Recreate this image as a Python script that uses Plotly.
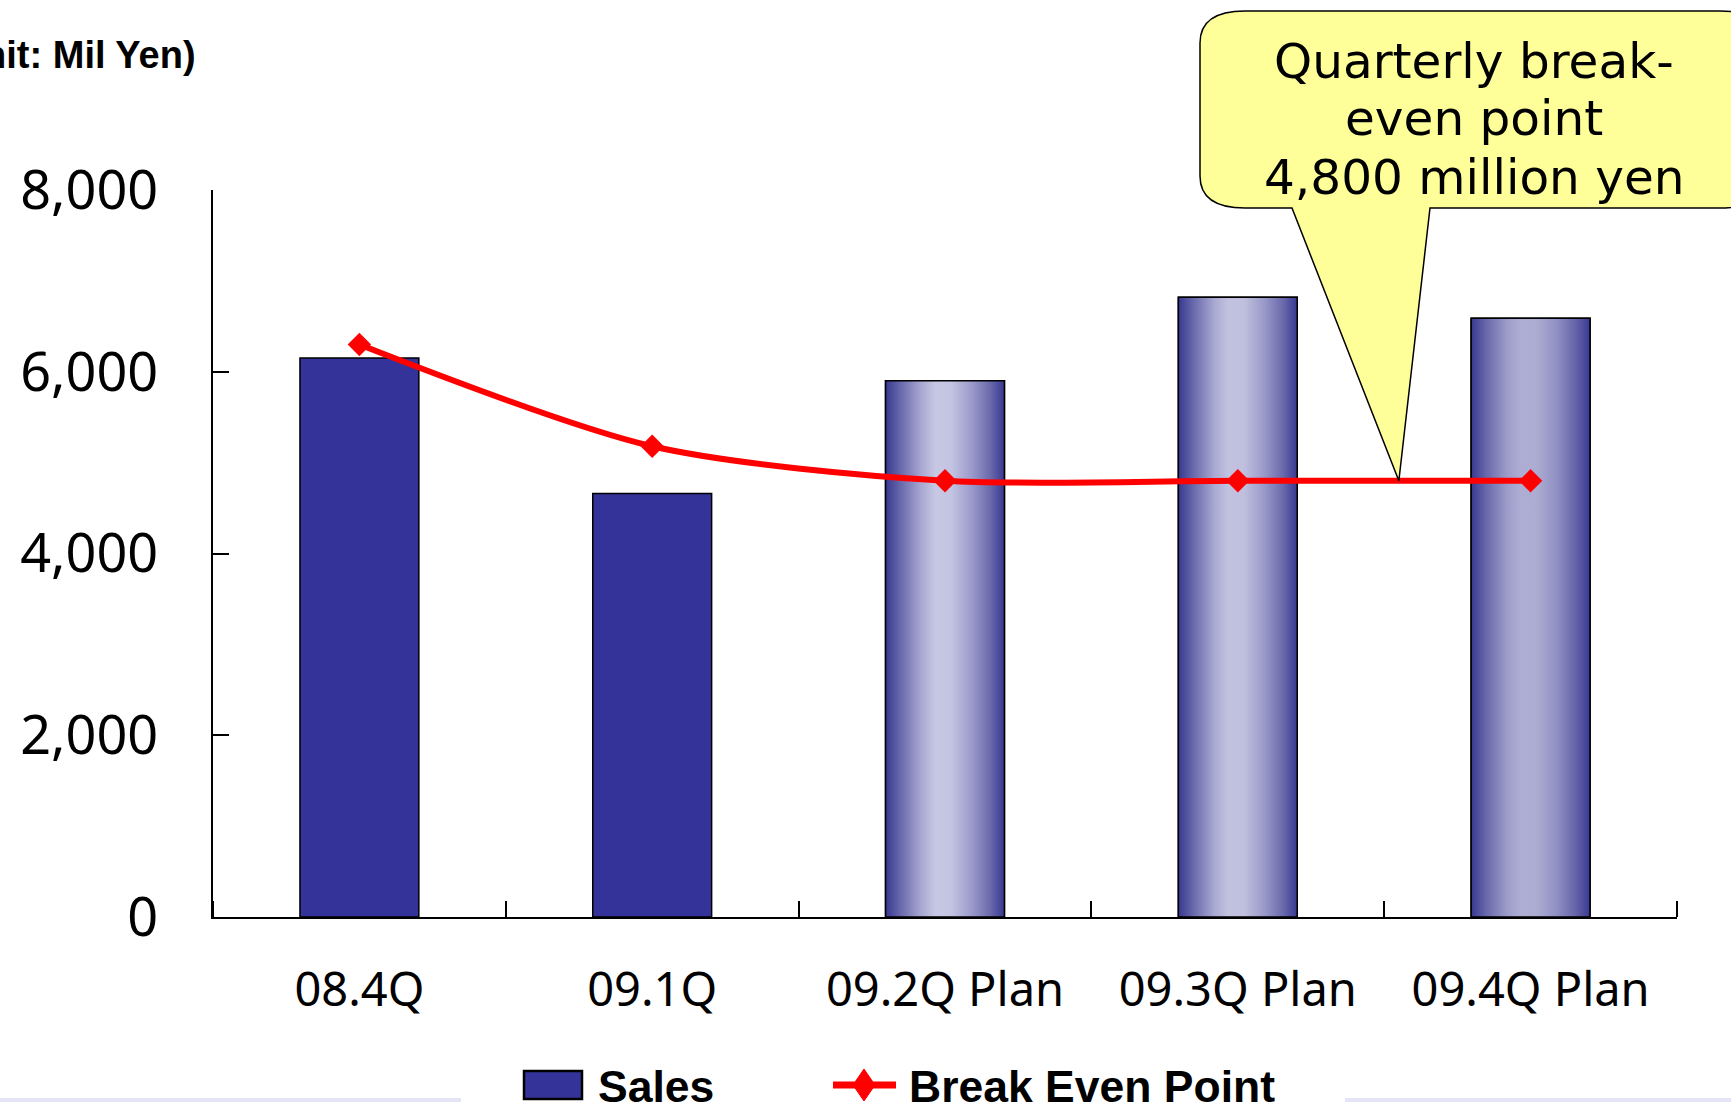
import plotly.graph_objects as go

# ---------------- data ----------------
categories = ["08.4Q", "09.1Q", "09.2Q Plan", "09.3Q Plan", "09.4Q Plan"]
sales = [6150, 4660, 5900, 6820, 6590]
break_even = [6300, 5180, 4800, 4800, 4800]
is_plan = [False, False, True, True, True]
y_ticks = [0, 2000, 4000, 6000, 8000]
callout_lines = ["Quarterly break-", "even point", "4,800 million yen"]
callout_target_x = 3.55
callout_target_y = 4800
unit_label = "(Unit: Mil Yen)"
series_names = ["Sales", "Break Even Point"]

# ---------------- layout geometry ----------------
W, H = 1731, 1102
ML, MR, MT, MB = 213, 54, 190, 185
PW, PH = W - ML - MR, H - MT - MB
BAR_W = 0.406
Y_MAX = y_ticks[-1]
N = len(categories)
BAR_COLOR = "#333399"
LINE_COLOR = "#ff0000"


def px_x(X):
    return (X - ML) / PW


def px_y(Y):
    return (H - MB - Y) / PH


plan_scales = [
    [[0, "#383892"], [0.12, "#6666aa"], [0.3, "#a8a8d2"], [0.42, "#c8c8e4"],
     [0.55, "#c4c4e2"], [0.72, "#9c9ccc"], [0.88, "#6a6aac"], [1, "#383892"]],
    [[0, "#383892"], [0.12, "#6666aa"], [0.3, "#a8a8d2"], [0.42, "#c2c2e0"],
     [0.55, "#c0c0de"], [0.72, "#9a9aca"], [0.88, "#6a6aac"], [1, "#383892"]],
    [[0, "#383892"], [0.12, "#6666aa"], [0.3, "#9c9cca"], [0.42, "#aeaed4"],
     [0.55, "#acacd2"], [0.72, "#9090c4"], [0.88, "#6464a8"], [1, "#383892"]],
]

fig = go.Figure()
xs = list(range(N))

fig.add_trace(go.Bar(
    x=xs, y=sales, width=BAR_W, name=series_names[0],
    marker=dict(color=BAR_COLOR, line=dict(color="black", width=1.5)),
))

k = 0
for i, (v, p) in enumerate(zip(sales, is_plan)):
    if not p:
        continue
    x0, x1 = i - BAR_W / 2, i + BAR_W / 2
    fig.add_trace(go.Scatter(
        x=[x0, x1, x1, x0, x0], y=[0, 0, v, v, 0], mode="lines",
        fill="toself",
        fillgradient=dict(type="horizontal", colorscale=plan_scales[k % len(plan_scales)]),
        line=dict(color="black", width=1.5),
        showlegend=False, hoverinfo="skip",
    ))
    k += 1

fig.add_trace(go.Scatter(
    x=xs, y=break_even, mode="lines+markers", name=series_names[1],
    line=dict(color=LINE_COLOR, width=6, shape="spline", smoothing=0.8),
    marker=dict(symbol="diamond", size=18, color=LINE_COLOR),
))


def P(X, Y):
    return f"{px_x(X):.5f},{px_y(Y):.5f}"


# callout balloon
L, R, T, B = 1200, 1765, 11, 208
rx, ry = 45, 32
tail_l, tail_r = 1292, 1430
tipx = (callout_target_x + 0.5) / N
tipy = callout_target_y / Y_MAX

path = (
    f"M {P(L + rx, T)} L {P(R - rx, T)} Q {P(R, T)} {P(R, T + ry)} "
    f"L {P(R, B - ry)} Q {P(R, B)} {P(R - rx, B)} "
    f"L {P(tail_r, B)} L {tipx:.5f},{tipy:.5f} L {P(tail_l, B)} "
    f"L {P(L + rx, B)} Q {P(L, B)} {P(L, B - ry)} "
    f"L {P(L, T + ry)} Q {P(L, T)} {P(L + rx, T)} Z"
)

# manual legend geometry (pixels)
LEG_Y = 1085
sw_x0, sw_x1, sw_y0, sw_y1 = 524, 582, 1071, 1099
ln_x0, ln_x1 = 833, 896
dm_cx, dm_w, dm_h = 864, 22, 32
diamond = (f"M {P(dm_cx, LEG_Y - dm_h / 2)} L {P(dm_cx + dm_w / 2, LEG_Y)} "
           f"L {P(dm_cx, LEG_Y + dm_h / 2)} L {P(dm_cx - dm_w / 2, LEG_Y)} Z")

shapes = [
    dict(type="rect", xref="paper", yref="paper", x0=px_x(0), x1=px_x(461),
         y0=px_y(H), y1=px_y(H - 4), fillcolor="#e4e4f6", line=dict(width=0), layer="below"),
    dict(type="rect", xref="paper", yref="paper", x0=px_x(1345), x1=px_x(W),
         y0=px_y(H), y1=px_y(H - 4), fillcolor="#e4e4f6", line=dict(width=0), layer="below"),
    dict(type="path", path=path, xref="paper", yref="paper",
         fillcolor="#ffff99", line=dict(color="black", width=1.5), layer="above"),
    dict(type="rect", xref="paper", yref="paper", x0=px_x(sw_x0), x1=px_x(sw_x1),
         y0=px_y(sw_y1), y1=px_y(sw_y0), fillcolor=BAR_COLOR,
         line=dict(color="black", width=2.5)),
    dict(type="line", xref="paper", yref="paper", x0=px_x(ln_x0), x1=px_x(ln_x1),
         y0=px_y(LEG_Y), y1=px_y(LEG_Y), line=dict(color=LINE_COLOR, width=7)),
    dict(type="path", path=diamond, xref="paper", yref="paper",
         fillcolor=LINE_COLOR, line=dict(color=LINE_COLOR, width=1)),
]

annotations = []
line_y = [61, 118, 177]
for txt, yy in zip(callout_lines, line_y):
    annotations.append(dict(
        text=txt, xref="paper", yref="paper", x=px_x(1474), y=px_y(yy),
        xanchor="center", yanchor="middle", showarrow=False,
        font=dict(family="DejaVu Sans", size=48.5, color="black"),
    ))
annotations.append(dict(
    text=unit_label, xref="paper", yref="paper", x=px_x(198), y=px_y(55),
    xanchor="right", yanchor="middle", showarrow=False,
    font=dict(family="Liberation Sans", size=38, color="black", weight="bold"),
))
for name, xl in zip(series_names, [596, 907]):
    annotations.append(dict(
        text=name, xref="paper", yref="paper", x=px_x(xl), y=px_y(LEG_Y + 1),
        xanchor="left", yanchor="middle", showarrow=False,
        font=dict(family="Liberation Sans", size=44.5, color="black", weight="bold"),
    ))

fig.update_layout(
    width=W, height=H,
    margin=dict(l=ML, r=MR, t=MT, b=MB, pad=0, autoexpand=False),
    paper_bgcolor="white", plot_bgcolor="white",
    shapes=shapes, annotations=annotations,
    showlegend=False,
    xaxis=dict(
        range=[-0.5, N - 0.5], tickmode="array", tickvals=xs, ticktext=categories,
        ticks="", showgrid=False, zeroline=False, showline=True,
        linecolor="black", linewidth=2,
        tickfont=dict(family="Noto Sans", size=47, color="black"),
        ticklabelstandoff=31,
        minor=dict(tickmode="array", tickvals=[i - 0.5 for i in range(N + 1)],
                   ticks="inside", ticklen=16, tickwidth=2, tickcolor="black",
                   showgrid=False),
    ),
    yaxis=dict(
        range=[0, Y_MAX], tickmode="array", tickvals=y_ticks, tickformat=",",
        ticks="inside", ticklen=16, tickwidth=2, tickcolor="black",
        showgrid=False, zeroline=False, showline=True, linecolor="black", linewidth=2,
        tickfont=dict(family="Noto Sans", size=54, color="black"),
        ticklabelstandoff=42,
    ),
)

fig.write_html("out.html")
